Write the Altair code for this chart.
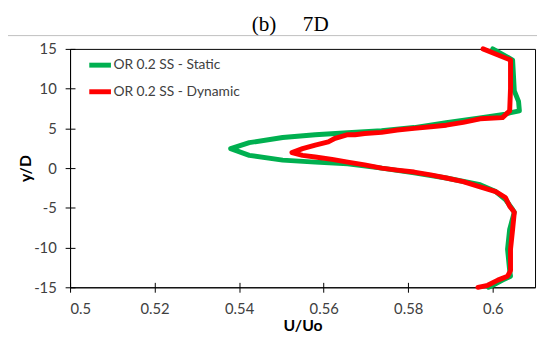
import altair as alt
import pandas as pd

title_text = "(b)\u00a0\u00a0\u00a0\u00a0\u00a07D"
series_names = ["OR 0.2 SS - Static", "OR 0.2 SS - Dynamic"]
series_colors = ["#00B050", "#FF0000"]
x_ticks = [0.5, 0.52, 0.54, 0.56, 0.58, 0.6]
y_ticks = [-15, -10, -5, 0, 5, 10, 15]

static_u = [0.6000, 0.6047, 0.6051, 0.6061, 0.6063, 0.6040, 0.6030, 0.5970, 0.5890,
            0.5814, 0.5737, 0.5657, 0.5580, 0.5503, 0.5424, 0.5380, 0.5424, 0.5503,
            0.5580, 0.5657, 0.5737, 0.5814, 0.5890, 0.5970, 0.6007, 0.6030, 0.6047,
            0.6051, 0.6040, 0.6035, 0.6040, 0.6042, 0.6023, 0.6000, 0.5990]
static_v = [15.0, 13.6, 9.7, 8.4, 7.2, 6.95, 6.8, 6.3, 5.7,
            5.1, 4.7, 4.45, 4.2, 3.85, 3.2, 2.45, 1.6, 1.0,
            0.75, 0.55, 0.0, -0.6, -1.25, -2.1, -2.95, -3.95, -5.2,
            -5.55, -7.7, -10.2, -12.9, -13.6, -14.1, -14.75, -15.0]

dynamic_u = [0.5977, 0.6042, 0.6042, 0.6040, 0.6023, 0.5970, 0.5930, 0.5890, 0.5853,
             0.5814, 0.5774, 0.5737, 0.5697, 0.5674, 0.5657, 0.5643, 0.5627, 0.5611,
             0.5580, 0.5550, 0.5525, 0.5550, 0.5580, 0.5620, 0.5657, 0.5697, 0.5737,
             0.5774, 0.5814, 0.5853, 0.5890, 0.5930, 0.5970, 0.6007, 0.6030, 0.6040,
             0.6051, 0.6047, 0.6042, 0.6042, 0.6035, 0.6012, 0.5988, 0.5965]
dynamic_v = [15.0, 13.6, 10.0, 7.2, 6.35, 6.2, 5.75, 5.4, 5.2,
             5.0, 4.8, 4.5, 4.35, 4.2, 4.2, 4.0, 3.75, 3.3,
             2.9, 2.45, 1.95, 1.6, 1.4, 1.1, 0.75, 0.4, 0.0,
             -0.25, -0.5, -0.85, -1.25, -1.7, -2.35, -2.95, -3.7, -4.8,
             -5.55, -7.7, -10.2, -12.9, -13.6, -14.1, -14.75, -15.0]

rows = []
for name, us, vs in [(series_names[0], static_u, static_v),
                     (series_names[1], dynamic_u, dynamic_v)]:
    for i, (u, v) in enumerate(zip(us, vs)):
        rows.append({"series": name, "u": u, "v": v, "i": i})
df = pd.DataFrame(rows)
title_df = pd.DataFrame({"t": [title_text]})

W, H = 472, 242
FONT = "Lato"
xscale = alt.Scale(domain=[0.5, 0.61], nice=False, zero=False)
yscale = alt.Scale(domain=[-15, 15], nice=False, zero=False)

color = alt.Color(
    "series:N",
    scale=alt.Scale(domain=series_names, range=series_colors),
    legend=alt.Legend(
        title=None, orient="none", legendX=17, legendY=3,
        symbolType="stroke", symbolSize=484, symbolStrokeWidth=5,
        labelFont=FONT, labelFontSize=14, labelColor="#404040",
        labelOffset=0, rowPadding=3, padding=0,
    ),
)

x_enc = alt.X("u:Q", scale=xscale, axis=alt.Axis(
    values=x_ticks, labelExpr="datum.value + ''", title="U/Uo",
    grid=False, tickSize=5, labelPadding=10, titleY=39,
    titleBaseline="middle", labelFontSize=15, titleFontSize=16))
y_enc = alt.Y("v:Q", scale=yscale, axis=alt.Axis(
    values=y_ticks, labelExpr="datum.value + ''", title="y/D",
    grid=False, tickSize=5, labelPadding=9, titleX=-45,
    titleBaseline="middle", labelFontSize=15, titleFontSize=16))

static_layer = alt.Chart(df).transform_filter(
    alt.datum.series == series_names[0]
).mark_line(strokeWidth=5, strokeJoin="round", strokeCap="round").encode(
    x=x_enc, y=y_enc, color=color, order=alt.Order("i:Q"))

dynamic_layer = alt.Chart(df).transform_filter(
    alt.datum.series == series_names[1]
).mark_line(strokeWidth=5, strokeJoin="round", strokeCap="round").encode(
    x=x_enc, y=y_enc, color=color, order=alt.Order("i:Q"))

curves = alt.layer(static_layer, dynamic_layer)

inner_ticks = alt.Chart(df).mark_point(opacity=0).encode(
    x=alt.X("u:Q", scale=xscale, axis=alt.Axis(
        orient="top", offset=-H, values=x_ticks, labels=False, domain=False,
        grid=False, tickSize=5, title=None)),
    y=alt.Y("v:Q", scale=yscale, axis=alt.Axis(
        orient="right", offset=-W, values=y_ticks, labels=False, domain=False,
        grid=False, tickSize=5, title=None)),
)

separator = alt.Chart(title_df).mark_rule(color="#BFBFBF", strokeWidth=1).encode(
    x=alt.value(-63), x2=alt.value(W + 2), y=alt.value(-13.5))

title_mark = alt.Chart(title_df).mark_text(
    font="Liberation Serif", fontSize=21.5, color="black", align="center",
    baseline="alphabetic").encode(
    x=alt.value(223.5), y=alt.value(-18.5), text="t:N")

chart = alt.layer(curves, inner_ticks, separator, title_mark).resolve_axis(
    x="independent", y="independent"
).properties(
    width=W, height=H,
    autosize=alt.AutoSizeParams(type="none"),
    padding={"left": 63, "top": 39, "right": 2, "bottom": 52},
).configure_view(
    stroke="black", strokeWidth=1
).configure_axis(
    domainColor="black", tickColor="black", domainWidth=1, tickWidth=1,
    labelFont=FONT, labelColor="#404040", titleFont=FONT, titleColor="black",
    titleFontWeight="bold",
)

chart.save("out.html", embed_options={"renderer": "svg", "actions": False})
